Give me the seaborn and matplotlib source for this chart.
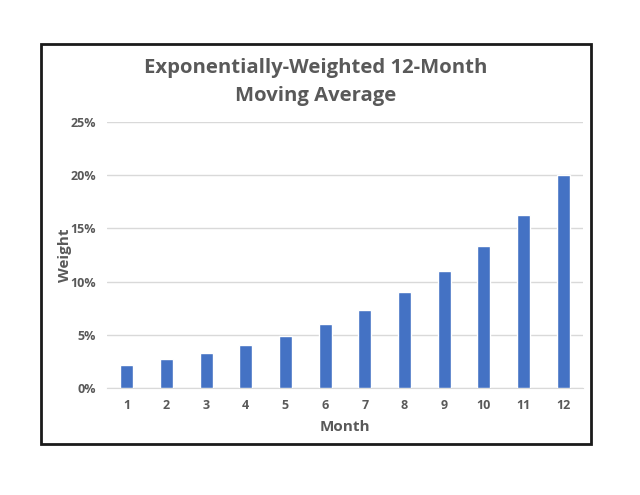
import matplotlib.pyplot as plt
import matplotlib.patches as patches
from matplotlib.ticker import FuncFormatter
import seaborn as sns
import pandas as pd

# 数据
months = [1, 2, 3, 4, 5, 6, 7, 8, 9, 10, 11, 12]
weights = [2.2, 2.7, 3.3, 4.0, 4.9, 6.0, 7.35, 9.0, 10.95, 13.35, 16.3, 20.0]
ytick_values = [0, 5, 10, 15, 20, 25]

sns.set_style('white')
plt.rcParams['font.family'] = ['Open Sans', 'DejaVu Sans']

text_color = '#595959'
bar_color = '#4472C4'
grid_color = '#D9D9D9'

df = pd.DataFrame({'month': months, 'weight': weights})

fig = plt.figure(figsize=(6.4, 4.95), dpi=100)
ax = fig.add_axes([107 / 640, 1 - 388 / 495, 476 / 640, 266 / 495])

sns.barplot(data=df, x='month', y='weight', color=bar_color, width=0.33,
            saturation=1, ax=ax, zorder=3)

ax.set_ylim(0, 25)
ax.set_yticks(ytick_values)
ax.yaxis.set_major_formatter(FuncFormatter(lambda v, p: f'{v:.0f}%'))
ax.grid(axis='y', color=grid_color, linewidth=1, zorder=0)
for s in ['top', 'right', 'left']:
    ax.spines[s].set_visible(False)
ax.spines['bottom'].set_color(grid_color)
ax.tick_params(axis='both', length=0, labelsize=9, colors=text_color, pad=8)
for lbl in ax.get_xticklabels() + ax.get_yticklabels():
    lbl.set_fontweight('bold')

ax.set_xlabel('Month', fontsize=11, fontweight='bold', color=text_color, labelpad=6)
ax.set_ylabel('Weight', fontsize=11, fontweight='bold', color=text_color, labelpad=-1)

fig.text(316 / 640, 1 - 82 / 495, 'Exponentially-Weighted 12-Month\nMoving Average',
         ha='center', va='center', fontsize=14.6, fontweight='bold', color=text_color,
         linespacing=1.5)

# 外框
fig.patches.append(patches.Rectangle((41 / 640, 1 - 444 / 495), 550 / 640, 400 / 495,
                                     transform=fig.transFigure, fill=False,
                                     edgecolor='#1a1a1a', linewidth=2))

fig.savefig('out.png', dpi=100)
